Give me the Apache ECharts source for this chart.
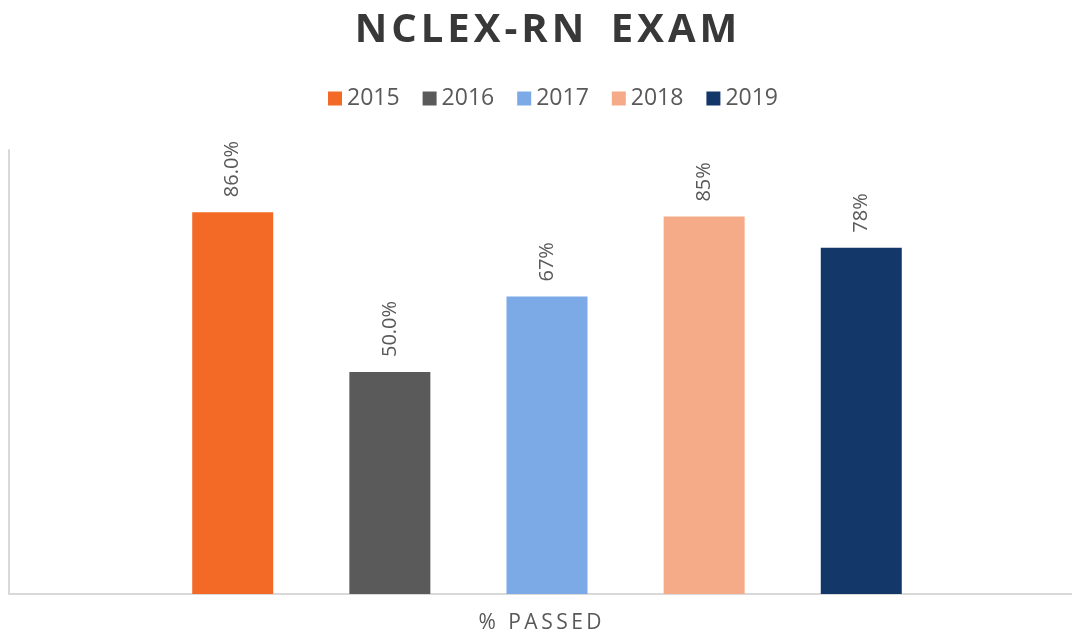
<!DOCTYPE html>
<html lang="en">
<head>
  <meta charset="UTF-8">
  <title>NCLEX-RN Exam</title>
  <style>
    * { margin: 0; padding: 0; }
    body { background: #ffffff; }
    #main { width: 1072px; height: 637px; }
  </style>
</head>
<body>
  <div id="main"></div>
  <script src="https://cdn.jsdelivr.net/npm/echarts@6/dist/echarts.min.js"></script>
  <script>
    // data
    var years = ['2015', '2016', '2017', '2018', '2019'];
    var passRates = [86, 50, 67, 85, 78];
    var labelTexts = ['86.0%', '50.0%', '67%', '85%', '78%'];
    var categories = ['% PASSED'];
    var colors = ['#F26A25', '#5A5A5A', '#7BAAE6', '#F6AB88', '#14376A'];

    // spread letters a bit, the canvas has no letter spacing
    function spaced(str, sep) {
      return str.split('').join(sep);
    }

    var chart = echarts.init(document.getElementById('main'));

    var series = years.map(function (y, i) {
      return {
        name: y,
        type: 'bar',
        data: [passRates[i]],
        barWidth: 81,
        barGap: '94%',
        itemStyle: { color: colors[i] },
        label: {
          show: true,
          position: 'top',
          distance: 15,
          rotate: 90,
          align: 'left',
          verticalAlign: 'middle',
          color: '#595959',
          fontSize: 20,
          fontFamily: 'Open Sans',
          formatter: function () { return labelTexts[i]; }
        }
      };
    });

    var option = {
      animation: false,
      color: colors,
      title: {
        text: spaced('NCLEX-RN', '\u200A') + '\u2002\u2009' + spaced('EXAM', '\u200A'),
        left: 541,
        textAlign: 'center',
        top: 6,
        textStyle: {
          fontFamily: 'Open Sans',
          fontWeight: 'bold',
          fontSize: 40,
          color: '#383838'
        }
      },
      legend: {
        data: years,
        left: 323,
        top: 82,
        itemWidth: 14,
        itemHeight: 14,
        itemGap: 23,
        icon: 'rect',
        textStyle: {
          fontFamily: 'Open Sans',
          fontSize: 23,
          color: '#595959'
        }
      },
      grid: {
        left: 9,
        right: -13,
        top: 150,
        bottom: 43,
        containLabel: false,
        outerBoundsMode: 'none'
      },
      xAxis: {
        type: 'category',
        data: categories,
        axisTick: { show: false },
        axisLine: { lineStyle: { color: '#D9D9D9', width: 2 } },
        axisLabel: {
          margin: 19,
          padding: [0, 14, 0, 0],
          color: '#595959',
          fontSize: 21,
          fontFamily: 'Open Sans',
          formatter: function (v) { return spaced(v, '\u2009'); }
        }
      },
      yAxis: {
        type: 'value',
        min: 0,
        max: 100,
        axisLine: { show: true, lineStyle: { color: '#D9D9D9', width: 2 } },
        axisTick: { show: false },
        axisLabel: { show: false },
        splitLine: { show: false }
      },
      series: series
    };

    chart.setOption(option);
  </script>
</body>
</html>
